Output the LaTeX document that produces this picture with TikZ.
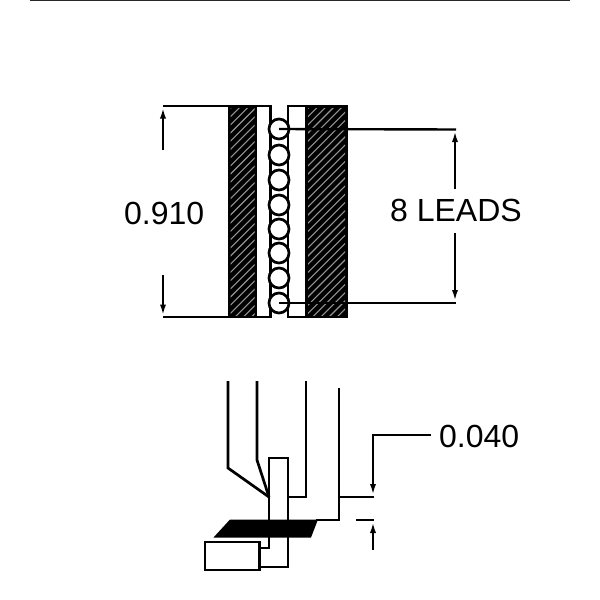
\documentclass[tikz,border=0pt]{standalone}
\usepackage{fontspec}
\setmainfont{Liberation Sans}[FakeBold=0.06]
\newfontfamily\labfont{Liberation Sans}
\usetikzlibrary{arrows.meta}
\tikzset{
  ln/.style={line width=2.7pt,black,line cap=butt,line join=miter},
  thin ln/.style={line width=2.4pt,black},
  dim/.style={line width=2.4pt,black,-{Latex[length=12pt,width=6pt]}},
  lab/.style={font=\labfont\fontsize{32}{32}\selectfont,inner sep=0pt,anchor=base west},
  pin/.style={circle,draw=black,line width=2.7pt,fill=white,minimum size=20pt,inner sep=0pt}
}
\begin{document}
\begin{tikzpicture}[x=1pt,y=-1pt]
\useasboundingbox (0,0) rectangle (600,600);
\draw[line width=1.6pt,black!85] (30,0.4) -- (570,0.4);
% hatched blocks
\foreach \xa/\xb in {227.5/257,305/347.5}{
  \fill[black] (\xa,105) rectangle (\xb,318);
  \begin{scope}
    \clip (\xa+3,108) rectangle (\xb-2.5,315);
    \foreach \k in {0,...,45}{
      \draw[white!58!black,line width=1.1pt] (\xa-225+8.2*\k,320) -- ++(230,-230);
    }
  \end{scope}
}
% inner walls
\draw[ln] (257,106) -- (270.5,106) -- (270.5,317) -- (257,317);
\draw[ln] (305,106) -- (288,106) -- (288,317) -- (305,317);
% pins
\foreach \i/\y in {1/129,2/155,3/180,4/205,5/229,6/253,7/278,8/303}{
  \node[pin] (p\i) at (279,\y) {};
}
% leads dimension
\coordinate (t1) at (456,129.5);
\coordinate (t2) at (456,303);
\coordinate (a1) at (455,189);
\coordinate (a2) at (455,233);
\draw[thin ln] (p1.center) -- (t1);
\draw[thin ln] (p8.center) -- (t2);
\draw[dim] (a1) -- (455,130);
\draw[dim] (a2) -- (455,302);
\node[lab] (leads) at (390,221) {8 LEADS};
% 0.910 dimension
\coordinate (l1) at (163,106);
\coordinate (l2) at (163,317);
\draw[thin ln] (l1) -- (228,106);
\draw[thin ln] (l2) -- (228,317);
\draw[dim] (163,150) -- (163,106.5);
\draw[dim] (163,275) -- (163,316.5);
\node[lab] (w) at (124,224) {0.910};
% lower view
\draw[ln] (228,381) -- (228,468) -- (269,497);
\draw[ln] (257,381) -- (257,460) -- (269,497);
\draw[ln] (306,381) -- (306,497) -- (288,497);
\draw[ln] (339,388) -- (339,520) -- (316,520);
\draw[ln] (339,497) -- (374,497);
\fill[black] (230,519.5) -- (318,519.5) -- (311,537.5) -- (213.5,537.5) -- cycle;
\draw[ln] (260,548) -- (269,548) -- (269,458) -- (288,458) -- (288,567) -- (260,567);
\draw[ln,fill=white] (205,542) rectangle (259.5,570);
% 0.040 dimension
\draw[ln] (356,520) -- (374,520);
\draw[thin ln] (371.8,435) -- (431,435);
\draw[dim] (373,435) -- (373,496);
\draw[dim] (373,550) -- (373,521);
\node[lab] (gap) at (439,447.5) {0.040};
\end{tikzpicture}
\end{document}
